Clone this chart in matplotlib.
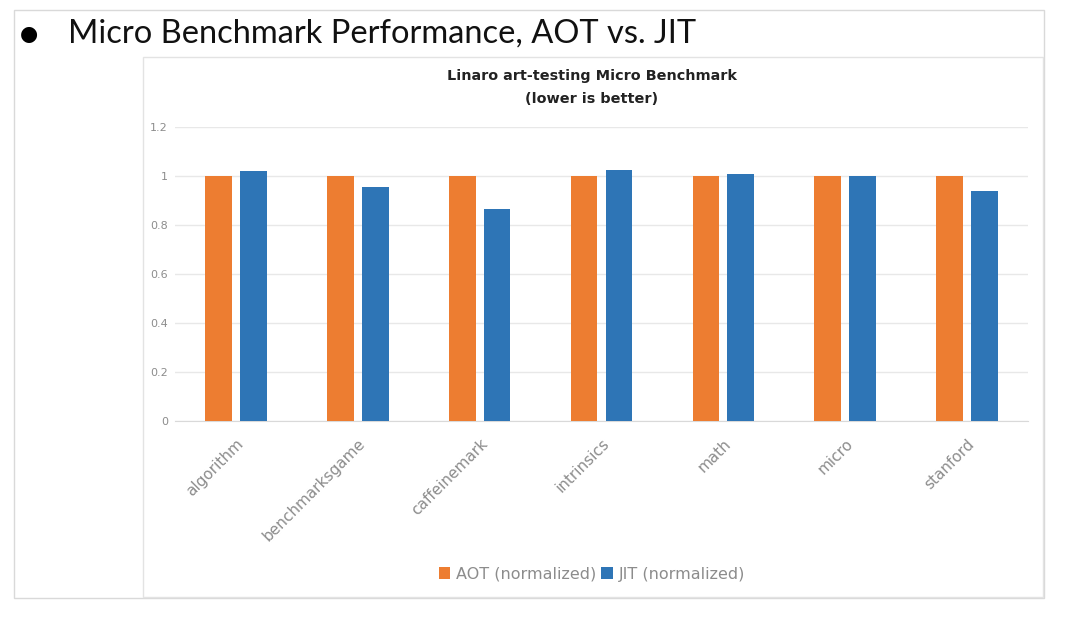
import matplotlib
matplotlib.use("Agg")
import matplotlib.pyplot as plt
import numpy as np
from matplotlib.patches import Rectangle

categories = ["algorithm", "benchmarksgame", "caffeinemark", "intrinsics", "math", "micro", "stanford"]
aot = [1.0, 1.0, 1.0, 1.0, 1.0, 1.0, 1.0]
jit = [1.02, 0.955, 0.867, 1.024, 1.008, 1.0, 0.94]
yticks = [0, 0.2, 0.4, 0.6, 0.8, 1, 1.2]
ytick_labels = ["0", "0.2", "0.4", "0.6", "0.8", "1", "1.2"]

ORANGE = "#ED7D31"
BLUE = "#2E75B6"
GRAY = "#8c8c8c"

W, H = 1080, 620
fig = plt.figure(figsize=(W / 100, H / 100), dpi=100)
fig.patch.set_facecolor("white")


def fx(px):
    return px / W


def fy(py):
    return 1 - py / H


# slide frame and chart frame
fig.patches.append(Rectangle((fx(14), fy(598)), fx(1044) - fx(14), fy(10) - fy(598),
                             transform=fig.transFigure, fill=False, edgecolor="#d9d9d9", lw=1))
fig.patches.append(Rectangle((fx(143), fy(597)), fx(1043) - fx(143), fy(57) - fy(597),
                             transform=fig.transFigure, fill=False, edgecolor="#e3e3e3", lw=1))

# slide heading
fig.text(fx(20), fy(34), "\u25cf", fontsize=15, va="center", ha="left", color="black",
         family="DejaVu Sans")
fig.text(fx(68), fy(34), "Micro Benchmark Performance, AOT vs. JIT", fontsize=23.5,
         va="center", ha="left", color="#111111", family="Lato")

ax = fig.add_axes([fx(175), fy(421), fx(1028) - fx(175), fy(127) - fy(421)])
x = np.arange(len(categories))
width = 0.22
off = 0.143
ax.bar(x - off, aot, width, color=ORANGE, label="AOT (normalized)", zorder=3)
ax.bar(x + off, jit, width, color=BLUE, label="JIT (normalized)", zorder=3)

ax.set_xlim(-0.5, len(categories) - 0.5)
ax.set_ylim(0, 1.2)
ax.set_yticks(yticks)
ax.set_yticklabels(ytick_labels)
ax.grid(axis="y", color="#e8e8e8", lw=1, zorder=0)
for s in ["top", "right", "left"]:
    ax.spines[s].set_visible(False)
ax.spines["bottom"].set_color("#d9d9d9")
ax.tick_params(axis="y", length=0, colors=GRAY, labelsize=8, pad=5)
ax.tick_params(axis="x", length=0, colors=GRAY, labelsize=11, pad=11)
ax.set_xticks(x)
ax.set_xticklabels(categories, rotation=45, ha="right", rotation_mode="anchor")

fig.text(fx(592), fy(76), "Linaro art-testing Micro Benchmark", fontsize=10.4, fontweight="bold",
         ha="center", va="center", color="#222222")
fig.text(fx(592), fy(99), "(lower is better)", fontsize=10.4, fontweight="bold",
         ha="center", va="center", color="#222222")

fig.legend(loc="center", bbox_to_anchor=(fx(592), fy(574)), ncol=2, frameon=False,
           fontsize=11.5, labelcolor=GRAY, handlelength=0.7, handleheight=0.7,
           handletextpad=0.4, columnspacing=0.3)

fig.savefig("out.png", dpi=100)
